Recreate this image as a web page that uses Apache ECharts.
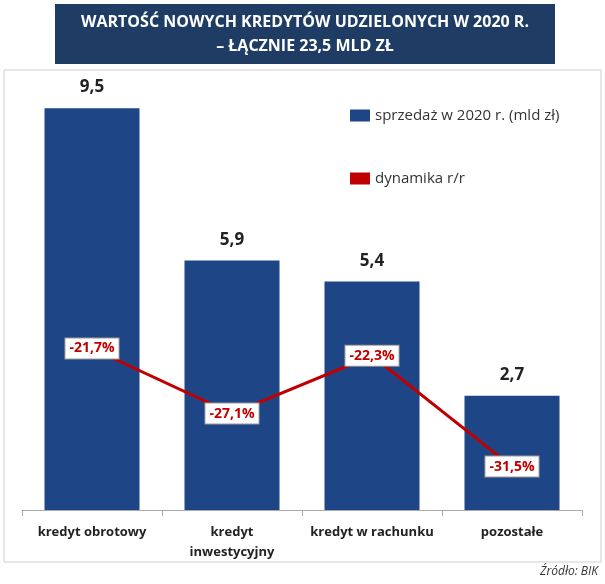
<!DOCTYPE html>
<html><head><meta charset="utf-8">
<script src="https://cdn.jsdelivr.net/npm/echarts@6/dist/echarts.min.js"></script>
<style>html,body{margin:0;padding:0;background:#fff}#c{width:605px;height:584px}</style>
</head><body><div id="c"></div>
<script>
const categories = ['kredyt obrotowy', 'kredyt\ninwestycyjny', 'kredyt w rachunku', 'pozostałe'];
const sales = [9.5, 5.9, 5.4, 2.7];
const dynamics = [-21.7, -27.1, -22.3, -31.5];
const fmt = v => String(v).replace('.', ',');
const chart = echarts.init(document.getElementById('c'));
chart.setOption({
  animation: false,
  backgroundColor: '#fff',
  graphic: [
    {type: 'rect', shape: {x: 4, y: 70, width: 597, height: 492}, style: {fill: 'none', stroke: '#cfcfcf', lineWidth: 1}},
    {type: 'rect', shape: {x: 55, y: 4, width: 500, height: 60}, style: {fill: '#1e3c64'}},
    {type: 'text', x: 305, y: 34, style: {text: 'WARTOŚĆ NOWYCH KREDYTÓW UDZIELONYCH W 2020 R.\n– ŁĄCZNIE 23,5 MLD ZŁ', fill: '#fff', font: 'bold 16px "Open Sans", sans-serif', align: 'center', verticalAlign: 'middle', lineHeight: 24}},
    {type: 'text', x: 598, y: 578, style: {text: 'Źródło: BIK', fill: '#333', font: 'italic 12px "Open Sans", sans-serif', align: 'right', verticalAlign: 'bottom'}}
  ],
  legend: {
    orient: 'vertical', left: 345, top: 103, itemGap: 48, itemWidth: 20, itemHeight: 12,
    textStyle: {fontSize: 15, color: '#333', fontFamily: 'Open Sans'},
    data: [{name: 'sprzedaż w 2020 r. (mld zł)', icon: 'rect'}, {name: 'dynamika r/r', icon: 'rect', itemStyle: {color: '#c00000'}}]
  },
  grid: {left: 22, right: 23, top: 87, bottom: 74},
  xAxis: {type: 'category', data: categories,
    axisTick: {show: true, alignWithLabel: false, length: 6, lineStyle: {color: '#aaa'}},
    axisLine: {lineStyle: {color: '#aaa'}},
    axisLabel: {fontSize: 13, fontWeight: 'bold', color: '#222', interval: 0, lineHeight: 20, margin: 12, fontFamily: 'Open Sans'}},
  yAxis: [
    {type: 'value', min: 0, max: 10, show: false, splitLine: {show: false}},
    {type: 'value', min: -35.1, max: 0, show: false, splitLine: {show: false}}
  ],
  series: [
    {name: 'sprzedaż w 2020 r. (mld zł)', type: 'bar', data: sales, barWidth: 95, itemStyle: {color: '#1e4586'},
     label: {show: true, position: 'top', distance: 12, formatter: p => fmt(p.value), fontSize: 17, fontWeight: 'bold', color: '#222', fontFamily: 'Open Sans'}},
    {name: 'dynamika r/r', type: 'line', yAxisIndex: 1, data: dynamics, symbol: 'circle', symbolSize: 1, showSymbol: true, lineStyle: {color: '#c00000', width: 3}, itemStyle: {color: '#c00000'},
     label: {show: true, position: 'inside', formatter: p => fmt(p.value) + '%', fontSize: 14, fontWeight: 'bold', color: '#c00000', backgroundColor: '#fff', borderColor: '#999', borderWidth: 1, padding: [3, 4], fontFamily: 'Open Sans'}}
  ]
});
</script></body></html>
